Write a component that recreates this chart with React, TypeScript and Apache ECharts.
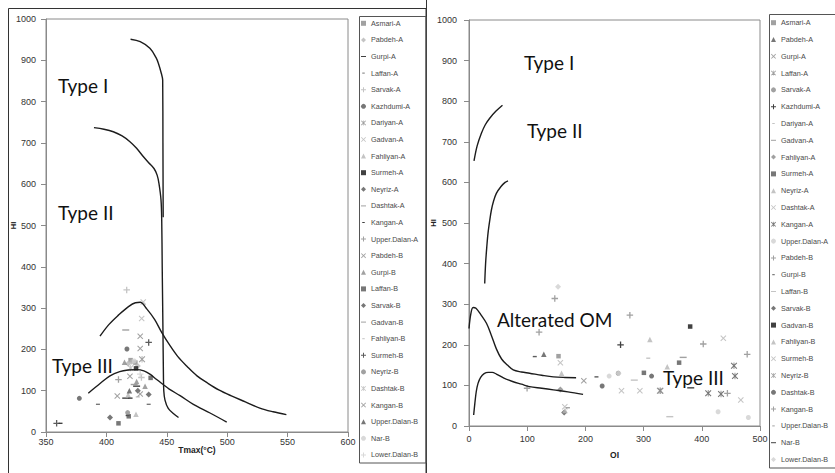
import React, { useEffect, useRef } from "react";
import * as echarts from "echarts";

// ---------- DATA ----------
const seriesNames = [
  "Asmari-A", "Pabdeh-A", "Gurpi-A", "Laffan-A", "Sarvak-A", "Kazhdumi-A", "Dariyan-A",
  "Gadvan-A", "Fahliyan-A", "Surmeh-A", "Neyriz-A", "Dashtak-A", "Kangan-A", "Upper.Dalan-A",
  "Pabdeh-B", "Gurpi-B", "Laffan-B", "Sarvak-B", "Gadvan-B", "Fahliyan-B", "Surmeh-B",
  "Neyriz-B", "Dashtak-B", "Kangan-B", "Upper.Dalan-B", "Nar-B", "Lower.Dalan-B",
];

const tmaxTicks = [350, 400, 450, 500, 550, 600];
const oiTicks = [0, 100, 200, 300, 400, 500];
const hiTicks = [0, 100, 200, 300, 400, 500, 600, 700, 800, 900, 1000];

// Left panel: [Tmax, HI] per series (same order as seriesNames)
const leftPoints: number[][][] = [
  [[420, 174], [424, 168]],
  [[421, 170], [426, 160], [418, 165]],
  [[416, 82], [425, 111]],
  [[393, 67], [435, 67]],
  [[416.8, 344], [429, 132]],
  [[417, 201], [377.6, 81.5]],
  [[429.5, 176]],
  [[430.5, 315], [429.2, 275]],
  [[418, 90], [424.5, 43]],
  [[424.5, 154]],
  [[435, 91], [403, 35]],
  [[416, 247]],
  [[417.6, 40], [420, 82], [362, 21]],
  [[410, 127]],
  [[428, 232], [428, 202], [419.5, 135]],
  [[415, 169], [425, 122], [432, 111]],
  [[436.6, 131], [418.5, 38], [410, 21]],
  [[426, 100]],
  [[423, 115]],
  [[426, 85]],
  [[435, 217], [358.8, 21]],
  [[417.6, 47]],
  [[420, 155]],
  [[409, 87], [428, 92]],
  [[419, 100]],
  [[423, 172]],
  [[428, 140]],
];

// Right panel: [OI, HI] per series
const rightPoints: number[][][] = [
  [[153.8, 172]],
  [[128.5, 177]],
  [[197.3, 111.5]],
  [[328, 87]],
  [[256.4, 130]],
  [[260.4, 200]],
  [[308, 167]],
  [[368, 169]],
  [[157, 90]],
  [[361, 156], [300.5, 131]],
  [[310.8, 213], [159, 130], [340.6, 146]],
  [[157, 156], [437, 216], [467, 64], [262, 87], [293.6, 87]],
  [[455.3, 148.5], [457, 123], [411, 80.5], [433, 79]],
  [[240.8, 123], [428, 35], [480, 21]],
  [[147.4, 314], [120.4, 231], [99.8, 93]],
  [[113, 171], [219, 121]],
  [[345, 23], [284, 113]],
  [[163.5, 33]],
  [[380, 245]],
  [[165, 38]],
  [[164.6, 47.5]],
  [[329, 87]],
  [[228.8, 98.5], [313.7, 123]],
  [[478, 176.5], [402.5, 202], [444, 80.5], [276.4, 273]],
  [[170, 45]],
  [[381, 94]],
  [[153, 343], [257, 130]],
];

// Boundary curves, left panel [Tmax, HI]
const curveTypeI = [[420, 951], [428, 945], [436, 929], [441, 907], [443, 893], [445.5, 868], [446.6, 852], [446.8, 700], [447, 520]];
const curveTypeII = [[389.7, 737], [398, 733], [405.7, 727], [413, 717], [419.5, 703], [425, 687], [430.5, 667], [435, 652], [439.4, 638], [442, 622], [443.5, 602], [445.2, 562], [445.8, 513], [446.2, 400], [446.8, 250], [447.2, 140], [447.5, 100], [448.5, 77], [451.2, 57], [455.4, 45], [459.7, 35]];
const curveUpperIII = [[394.7, 232], [402, 260], [410, 283], [418, 303], [424, 313], [428, 314], [433.4, 298], [440, 272], [446, 240], [452, 212], [459, 183], [467, 158], [475, 136], [484, 118], [493, 102], [503, 88], [515, 73], [527, 58], [538, 49], [549, 42]];
const curveLowerIII = [[385, 94], [395, 118], [403, 136], [411, 146], [418, 150], [425, 151], [431, 148], [436, 140], [441.6, 127], [447, 115], [452, 104], [461, 88], [472, 67], [485.8, 46], [499.6, 24]];

// Boundary curves, right panel [OI, HI]
const curveOI_I = [[8.6, 653], [14, 690], [21.3, 721], [28, 742], [35.6, 758], [46, 775], [57.5, 790]];
const curveOI_II = [[27, 351], [28.5, 400], [30.5, 440], [32.7, 475], [35.5, 505], [38.5, 532], [42, 553], [47, 573], [55, 590], [62, 600], [67, 604]];
const curveOI_Alt = [[0, 240], [3, 275], [7, 292], [12, 290], [20, 275], [30, 253], [38, 225], [47, 190], [56, 165], [66, 150], [76, 138], [90, 133], [104, 130], [125, 125], [145, 121], [165, 119.5], [184, 119]];
const curveOI_III = [[8, 27], [10, 55], [12.5, 85], [15.5, 105], [20, 120], [26, 129], [33, 132], [40, 132], [47, 128], [60, 118], [76, 109], [90, 103], [104, 97], [125, 93], [145, 89], [170, 84], [196, 78]];

// ---------- STYLES ----------
const PLUS = "path://M4,0H6V4H10V6H6V10H4V6H0V4H4Z";
const CROSS = "path://M1.2,0L5,3.8L8.8,0L10,1.2L6.2,5L10,8.8L8.8,10L5,6.2L1.2,10L0,8.8L3.8,5L0,1.2Z";
const STAR = "path://M1.2,0L5,3.8L8.8,0L10,1.2L6.2,5L10,8.8L8.8,10L5,6.2L1.2,10L0,8.8L3.8,5L0,1.2ZM4.4,0H5.6V10H4.4Z";
const LDASH = "path://M0,0H10V2H0Z";
const SDASH = "path://M0,0L0,0M2.5,0H7.5V2H2.5ZM10,2L10,2";

type Sty = [string, string];
const SYM: Record<string, { s: string; size: number | number[] }> = {
  sq: { s: "rect", size: 4.5 },
  di: { s: "diamond", size: 6 },
  tr: { s: "triangle", size: 5.5 },
  ci: { s: "circle", size: 5 },
  pl: { s: PLUS, size: 6.5 },
  x: { s: CROSS, size: 6 },
  st: { s: STAR, size: 6.5 },
  ld: { s: LDASH, size: [7, 1.4] },
  sd: { s: SDASH, size: [8, 1.4] },
};
const K = "#111", D = "#555", G = "#8a8a8a", L = "#b5b5b5", VL = "#cfcfcf";
const leftStyles: Sty[] = [
  ["sq", G], ["di", L], ["ld", K], ["sd", D], ["pl", L], ["ci", D], ["st", G],
  ["x", L], ["tr", L], ["sq", K], ["di", D], ["ld", G], ["sd", K], ["pl", G],
  ["x", G], ["tr", G], ["sq", D], ["di", D], ["ld", G], ["sd", L], ["pl", "#333"],
  ["ci", G], ["st", L], ["x", G], ["tr", D], ["ci", VL], ["pl", VL],
];
const rightStyles: Sty[] = [
  ["sq", G], ["tr", D], ["x", G], ["st", G], ["ci", G], ["pl", K], ["sd", L],
  ["ld", G], ["di", G], ["sq", D], ["tr", L], ["x", L], ["st", D], ["ci", VL],
  ["pl", G], ["sd", "#333"], ["ld", L], ["di", D], ["sq", K], ["tr", L], ["x", L],
  ["st", G], ["ci", D], ["pl", G], ["sd", G], ["ld", K], ["di", VL],
];

const RP = "R:";
const FONT = "Liberation Sans";

export default function App() {
  const ref = useRef<HTMLDivElement>(null);
  useEffect(() => {
    if (!ref.current) return;
    const chart = echarts.init(ref.current, undefined, { renderer: "svg" });

    const scatter = (names: string[], pts: number[][][], styles: Sty[], idx: number, prefix: string) =>
      names.map((n, i) => {
        const st = SYM[styles[i][0]];
        return {
          name: prefix + n,
          type: "scatter",
          xAxisIndex: idx,
          yAxisIndex: idx,
          symbol: st.s,
          symbolSize: st.size,
          symbolKeepAspect: false,
          itemStyle: { color: styles[i][1] },
          data: pts[i],
          z: 3,
          silent: true,
        };
      });

    const curve = (data: number[][], idx: number, smooth = 0.35) => ({
      type: "line",
      xAxisIndex: idx,
      yAxisIndex: idx,
      data,
      smooth,
      showSymbol: false,
      symbol: "none",
      silent: true,
      lineStyle: { color: "#1c1c1c", width: 1.4 },
      z: 4,
    });

    const axisCommon = {
      axisLine: { show: true, lineStyle: { color: "#8a8a8a", width: 1 } },
      axisTick: { show: true, length: 5, lineStyle: { color: "#8a8a8a" } },
      splitLine: { show: false },
      nameMoveOverlap: false,
    };
    const plain = (v: number) => String(v);

    const legendCommon = {
      orient: "vertical",
      itemWidth: 5,
      itemHeight: 5,
      padding: 0,
      symbolKeepAspect: true,
      selectedMode: false,
      textStyle: {
        fontFamily: FONT,
        fontSize: 7.2,
        lineHeight: 8,
        color: "#4a4a4a",
        width: 55,
        overflow: "truncate",
        ellipsis: "",
      },
    };

    const txt = (x: number, y: number, text: string) => ({
      type: "text",
      x,
      y,
      style: { text, fill: "#111", font: "19px Lato", textVerticalAlign: "middle", textAlign: "left" },
      z: 10,
    });

    chart.setOption({
      animation: false,
      backgroundColor: "#fff",
      grid: [
        { left: 46, top: 19, width: 302, height: 413, show: true, borderColor: "#8a8a8a", borderWidth: 1 },
        { left: 469, top: 20, width: 291, height: 406, show: true, borderColor: "#8a8a8a", borderWidth: 1 },
      ],
      xAxis: [
        {
          ...axisCommon, gridIndex: 0, type: "value", min: tmaxTicks[0], max: tmaxTicks[tmaxTicks.length - 1], interval: 50,
          name: "Tmax(°C)", nameLocation: "middle", nameGap: 13,
          nameTextStyle: { fontFamily: FONT, fontSize: 8.5, fontWeight: "bold", color: "#222" },
          axisLabel: { fontFamily: FONT, fontSize: 9, color: "#333", margin: 5, formatter: plain },
        },
        {
          ...axisCommon, gridIndex: 1, type: "value", min: oiTicks[0], max: oiTicks[oiTicks.length - 1], interval: 100,
          name: "OI", nameLocation: "middle", nameGap: 24,
          nameTextStyle: { fontFamily: FONT, fontSize: 8.5, fontWeight: "bold", color: "#222" },
          axisLabel: { fontFamily: FONT, fontSize: 9, color: "#333", margin: 8, formatter: plain },
        },
      ],
      yAxis: [
        {
          ...axisCommon, gridIndex: 0, type: "value", min: hiTicks[0], max: hiTicks[hiTicks.length - 1], interval: 100,
          name: "HI", nameLocation: "middle", nameGap: 29, nameRotate: 90,
          nameTextStyle: { fontFamily: FONT, fontSize: 7.5, fontWeight: "bold", color: "#222" },
          axisLabel: { fontFamily: FONT, fontSize: 9, color: "#333", margin: 10, formatter: plain },
        },
        {
          ...axisCommon, gridIndex: 1, type: "value", min: hiTicks[0], max: hiTicks[hiTicks.length - 1], interval: 100,
          name: "HI", nameLocation: "middle", nameGap: 32, nameRotate: 90,
          nameTextStyle: { fontFamily: FONT, fontSize: 7.5, fontWeight: "bold", color: "#222" },
          axisLabel: { fontFamily: FONT, fontSize: 9, color: "#333", margin: 12, formatter: plain },
        },
      ],
      legend: [
        { ...legendCommon, data: seriesNames, left: 361, top: 19.3, itemGap: 8.6 },
        {
          ...legendCommon, data: seriesNames.map((n) => RP + n), left: 771, top: 18.7, itemGap: 8.8,
          formatter: (n: string) => n.replace(RP, ""),
        },
      ],
      graphic: [
        { type: "rect", shape: { x: 8.5, y: 8.5, width: 417.5, height: 480 }, style: { fill: "none", stroke: "#333", lineWidth: 1 }, z: 0 },
        { type: "line", shape: { x1: 426.5, y1: 0, x2: 426.5, y2: 473 }, style: { stroke: "#333", lineWidth: 1 }, z: 0 },
        { type: "rect", shape: { x: 359.5, y: 16.5, width: 66.5, height: 446.5 }, style: { fill: "none", stroke: "#555", lineWidth: 1 }, z: 0 },
        { type: "rect", shape: { x: 769.5, y: 14.5, width: 80, height: 453.5 }, style: { fill: "none", stroke: "#555", lineWidth: 1 }, z: 0 },
        txt(58, 85, "Type I"),
        txt(58, 212, "Type II"),
        txt(52, 365, "Type III"),
        txt(524, 62, "Type I"),
        txt(527, 130, "Type II"),
        txt(497, 319, "Alterated OM"),
        txt(663, 377, "Type III"),
      ],
      series: [
        curve(curveTypeI, 0),
        curve(curveTypeII, 0),
        curve(curveUpperIII, 0),
        curve(curveLowerIII, 0),
        curve(curveOI_I, 1),
        curve(curveOI_II, 1),
        curve(curveOI_Alt, 1),
        curve(curveOI_III, 1),
        ...scatter(seriesNames, leftPoints, leftStyles, 0, ""),
        ...scatter(seriesNames, rightPoints, rightStyles, 1, RP),
      ],
    });
    return () => chart.dispose();
  }, []);

  return <div ref={ref} style={{ width: 835, height: 473, position: "absolute", left: 0, top: 0 }} />;
}
